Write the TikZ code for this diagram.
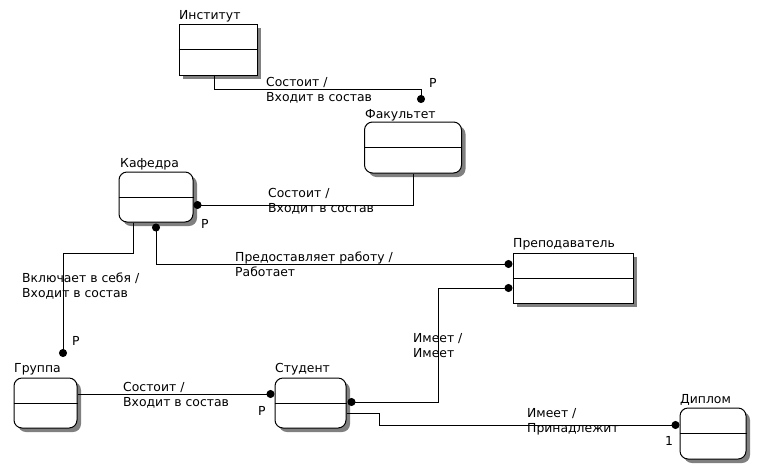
\documentclass[tikz,border=0pt]{standalone}
\usepackage{fontspec}
\setmainfont{DejaVu Sans}
\usetikzlibrary{shadows,arrows.meta}
\tikzset{
    entity-box/.style = {draw, fill=white, line width=1pt, rectangle, inner sep=0pt,
        drop shadow={shadow xshift=4pt, shadow yshift=-4pt, fill=black!50, opacity=1}},
    entity-rounded/.style = {entity-box, rounded corners=8pt},
    entity-title/.style = {anchor=base west, inner sep=0pt, font=\fontsize{12.4}{15.5}\selectfont},
    rel-text/.style = {anchor=base west, inner sep=0pt, align=left, font=\fontsize{12.4}{15.5}\selectfont},
    rel-line/.style = {draw, line width=1pt, -{Circle[length=8pt]}},
    rel-line-start/.style = {draw, line width=1pt, {Circle[length=8pt]}-},
    rel-line-both/.style = {draw, line width=1pt, {Circle[length=8pt]}-{Circle[length=8pt]}},
}

\begin{document}
\begin{tikzpicture}[x=1pt, y=-1pt]
\useasboundingbox (0,0) rectangle (767,469);

% entities
\node[entity-box, minimum width=78pt, minimum height=51pt] (inst) at (218,49.5) {};
\node[entity-rounded, minimum width=97pt, minimum height=51pt] (fak) at (413,147.5) {};
\node[entity-rounded, minimum width=74pt, minimum height=50pt] (kaf) at (156,197) {};
\node[entity-rounded, minimum width=63pt, minimum height=50pt] (grp) at (45.5,403) {};
\node[entity-rounded, minimum width=71pt, minimum height=50pt] (stud) at (310.5,403) {};
\node[entity-box, minimum width=120pt, minimum height=50pt] (prep) at (573,278) {};
\node[entity-rounded, minimum width=66pt, minimum height=51pt] (dipl) at (713,433.5) {};
\foreach \ent in {inst,fak,kaf,grp,stud,prep,dipl}
    \draw[line width=1pt] (\ent.west) -- (\ent.east);

\node[entity-title] (inst-title) at (179,19) {Институт};
\node[entity-title] (fak-title) at (365,118) {Факультет};
\node[entity-title] (kaf-title) at (120,167) {Кафедра};
\node[entity-title] (grp-title) at (14,372) {Группа};
\node[entity-title] (stud-title) at (275,372) {Студент};
\node[entity-title] (prep-title) at (513,247) {Преподаватель};
\node[entity-title] (dipl-title) at (680,403) {Диплом};

% free ends
\coordinate (fak-end) at (421,103);
\coordinate (grp-end) at (63,357);

% relationships
\draw[rel-line] ([xshift=-4pt]inst.south) -- ++(0,14) -| (fak-end);
\draw[rel-line-start] ([yshift=-8pt]kaf.east) -| (fak.south);
\draw[rel-line] ([xshift=-23pt]kaf.south) -- ++(0,31) -| (grp-end);
\draw[rel-line-both] ([yshift=-1pt]kaf.south) |- ([yshift=14pt]prep.west);
\draw[rel-line-both] ([xshift=1pt,yshift=1pt]stud.east) -- ++(91,0) |- ([yshift=-10pt]prep.west);
\draw[rel-line] ([yshift=9pt]grp.east) -- ([yshift=9pt]stud.west);
\draw[rel-line] ([yshift=-10pt]stud.east) -- ++(33,0) |- ([yshift=8.5pt]dipl.west);

% relationship labels
\node[rel-text] (inst-fak-lbl) at (266,101.5) {Состоит /\\Входит в состав};
\node[rel-text] (kaf-fak-lbl) at (268,212.5) {Состоит /\\Входит в состав};
\node[rel-text] (kaf-grp-lbl) at (22,297.5) {Включает в себя /\\Входит в состав};
\node[rel-text] (kaf-prep-lbl) at (235,276.5) {Предоставляет работу /\\Работает};
\node[rel-text] (grp-stud-lbl) at (123,406.5) {Состоит /\\Входит в состав};
\node[rel-text] (stud-prep-lbl) at (413,357.5) {Имеет /\\Имеет};
\node[rel-text] (stud-dipl-lbl) at (527,432.5) {Имеет /\\Принадлежит};

% cardinalities
\node[rel-text] (card-fak) at (429,87) {P};
\node[rel-text] (card-kaf) at (201,228) {P};
\node[rel-text] (card-grp) at (72,345) {P};
\node[rel-text] (card-stud) at (258,415) {P};
\node[rel-text] (card-dipl) at (665,445) {1};
\end{tikzpicture}
\end{document}
